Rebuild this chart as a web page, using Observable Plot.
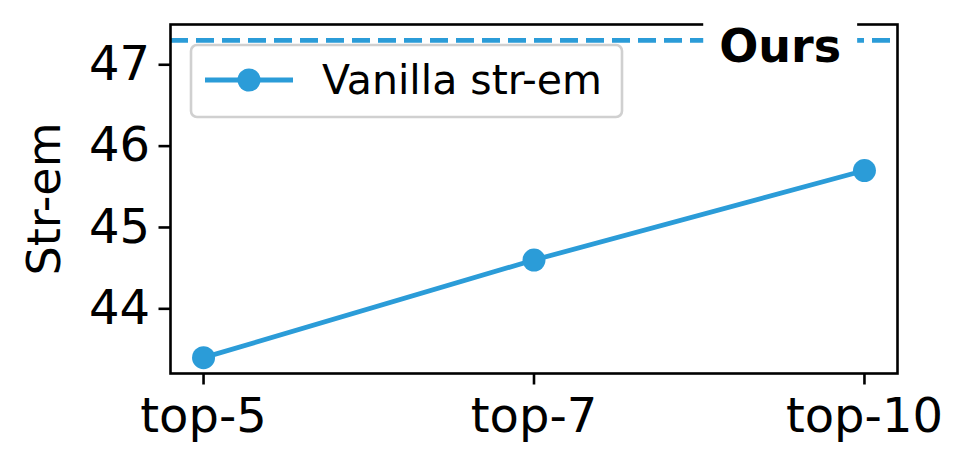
<!DOCTYPE html>
<html>
<head>
<meta charset="utf-8">
<script src="https://cdn.jsdelivr.net/npm/d3@7"></script>
<script src="https://cdn.jsdelivr.net/npm/@observablehq/plot@0.6"></script>
<style>
  html, body { margin: 0; padding: 0; background: #fff; }
  #chart { width: 969px; height: 471px; }
</style>
</head>
<body>
<div id="chart"></div>
<script>
// ---- data ----
const categories = ["top-5", "top-7", "top-10"];
const strEm = [43.4, 44.6, 45.7];
const seriesName = "Vanilla str-em";
const oursValue = 47.3;
const oursLabel = "Ours";
const yTicks = [44, 45, 46, 47];
const yLabel = "Str-em";

const color = "#2b9cd8";
const data = categories.map((c, i) => ({ i, cat: c, v: strEm[i] }));

const W = 969, H = 471;
const mL = 170, mR = 72, mT = 24, mB = 98;

const plot = Plot.plot({
  width: W, height: H,
  marginLeft: mL, marginRight: mR, marginTop: mT, marginBottom: mB,
  style: { fontFamily: "DejaVu Sans", fontSize: "48px", color: "#000", background: "#fff", overflow: "visible" },
  x: { type: "linear", domain: [-0.1, 2.1] },
  y: { domain: [43.205, 47.495] },
  marks: [
    Plot.ruleY([oursValue], { stroke: color, strokeWidth: 4.8, strokeDasharray: "18,8" }),
    Plot.frame({ stroke: "#000", strokeWidth: 2.6 }),
    Plot.line(data, { x: "i", y: "v", stroke: color, strokeWidth: 4.8 }),
    Plot.dot(data, { x: "i", y: "v", r: 11.5, fill: color, stroke: "none" }),
    Plot.text([oursLabel], { x: 1.745, y: oursValue, text: d => d, fontWeight: "bold", fontSize: 46, dy: 7, fill: "#000" }),
    Plot.axisX({ ticks: [0, 1, 2], tickFormat: i => categories[i], tickSize: 11.5, tickPadding: 13, fontSize: 48, label: null, strokeWidth: 2.6 }),
    Plot.axisY({ ticks: yTicks, tickFormat: d3.format("d"), tickSize: 11.5, tickPadding: 9, fontSize: 48, label: null, strokeWidth: 2.6 }),
    Plot.text([yLabel], { frameAnchor: "left", textAnchor: "middle", dx: -125, rotate: -90, text: d => d, fontSize: 46, fill: "#000" })
  ]
});

document.getElementById("chart").appendChild(plot);

// white box behind "Ours" (derived from its rendered bbox)
const svg = d3.select(plot);
svg.selectAll("text").filter(function () { return this.textContent === oursLabel; }).each(function () {
  const bb = this.getBBox();
  const pad = 16;
  const r = d3.select(this.parentNode).insert("rect", () => this)
    .attr("x", bb.x - pad).attr("y", bb.y - pad)
    .attr("width", bb.width + 2 * pad).attr("height", bb.height + 2 * pad)
    .attr("fill", "#fff");
  const tr = this.getAttribute("transform");
  if (tr) r.attr("transform", tr);
});

// legend (inside plot, upper left)
const lg = svg.append("g").attr("class", "legend");
const lx = 191, ly = 45, lw = 431, lh = 72;
const lyc = ly + 35;
lg.append("rect").attr("x", lx).attr("y", ly).attr("width", lw).attr("height", lh)
  .attr("rx", 6).attr("fill", "#fff").attr("fill-opacity", 0.8)
  .attr("stroke", "#d0d0d0").attr("stroke-width", 2.6);
lg.append("line").attr("x1", lx + 14).attr("x2", lx + 102).attr("y1", lyc).attr("y2", lyc)
  .attr("stroke", color).attr("stroke-width", 4.8);
lg.append("circle").attr("cx", lx + 58).attr("cy", lyc).attr("r", 11.5).attr("fill", color);
lg.append("text").attr("x", lx + 131).attr("y", lyc).attr("dy", "0.35em")
  .attr("text-anchor", "start")
  .attr("font-size", 41).attr("font-family", "DejaVu Sans").attr("fill", "#000").text(seriesName);
</script>
</body>
</html>
